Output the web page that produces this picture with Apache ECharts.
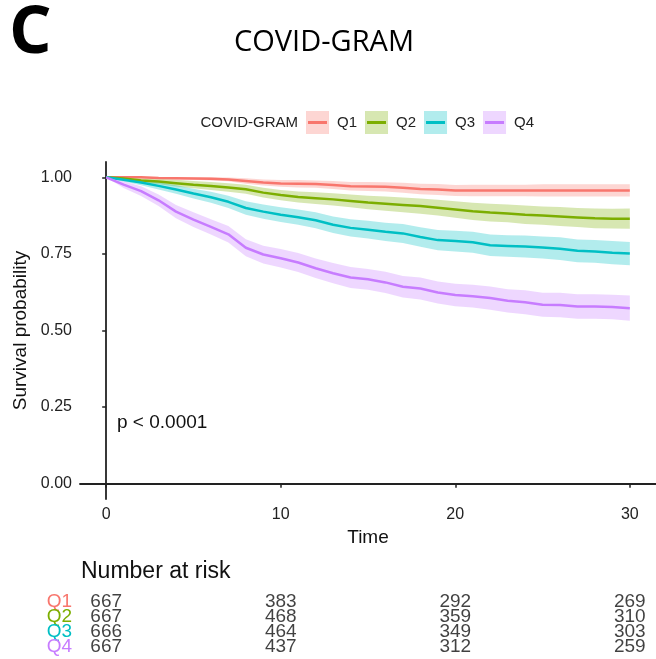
<!DOCTYPE html>
<html>
<head>
<meta charset="utf-8">
<script src="https://cdn.jsdelivr.net/npm/echarts@6/dist/echarts.min.js"></script>
<style>
  html, body { margin: 0; padding: 0; background: #fff; }
  #main { width: 656px; height: 659px; }
</style>
</head>
<body>
<div id="main"></div>
<script>
// 分组与颜色
const groups = ['Q1', 'Q2', 'Q3', 'Q4'];
const lineColors = ['#F8766D', '#7CAE00', '#00BFC4', '#C77CFF'];
const bandColors = ['rgba(248,118,109,0.3)', 'rgba(124,174,0,0.3)', 'rgba(0,191,196,0.3)', 'rgba(199,124,255,0.3)'];

// 时间点
const times = [0, 1, 2, 3, 4, 5, 6, 7, 8, 9, 10, 11, 12, 13, 14, 15, 16, 17, 18, 19, 20, 21, 22, 23, 24, 25, 26, 27, 28, 29, 30];

// 生存概率及置信区间
const q1Surv = [1.000, 1.000, 1.000, 0.998, 0.997, 0.996, 0.995, 0.993, 0.988, 0.983, 0.980, 0.979, 0.978, 0.975, 0.971, 0.970, 0.969, 0.966, 0.962, 0.960, 0.957, 0.957, 0.957, 0.957, 0.957, 0.957, 0.957, 0.957, 0.957, 0.957, 0.957];
const q1Low  = [1.000, 0.998, 0.998, 0.995, 0.993, 0.992, 0.990, 0.987, 0.979, 0.973, 0.969, 0.967, 0.966, 0.962, 0.957, 0.955, 0.954, 0.950, 0.945, 0.942, 0.939, 0.938, 0.938, 0.938, 0.938, 0.937, 0.937, 0.937, 0.937, 0.937, 0.937];
const q1High = [1.000, 1.000, 1.000, 1.000, 1.000, 1.000, 1.000, 0.999, 0.997, 0.993, 0.991, 0.991, 0.990, 0.988, 0.985, 0.985, 0.984, 0.982, 0.979, 0.978, 0.975, 0.976, 0.976, 0.976, 0.976, 0.977, 0.977, 0.977, 0.977, 0.977, 0.977];

const q2Surv = [1.000, 0.996, 0.990, 0.986, 0.981, 0.976, 0.972, 0.967, 0.961, 0.950, 0.942, 0.936, 0.932, 0.928, 0.923, 0.918, 0.914, 0.910, 0.906, 0.901, 0.895, 0.889, 0.885, 0.882, 0.878, 0.875, 0.872, 0.869, 0.866, 0.865, 0.865];
const q2Low  = [1.000, 0.992, 0.983, 0.977, 0.970, 0.964, 0.959, 0.953, 0.946, 0.934, 0.925, 0.918, 0.913, 0.908, 0.902, 0.896, 0.891, 0.886, 0.881, 0.875, 0.868, 0.861, 0.856, 0.853, 0.848, 0.845, 0.841, 0.838, 0.834, 0.833, 0.832];
const q2High = [1.000, 1.000, 0.997, 0.995, 0.992, 0.988, 0.985, 0.981, 0.976, 0.966, 0.959, 0.954, 0.951, 0.948, 0.944, 0.940, 0.937, 0.934, 0.931, 0.927, 0.922, 0.917, 0.914, 0.911, 0.908, 0.905, 0.903, 0.900, 0.898, 0.897, 0.898];

const q3Surv = [1.000, 0.992, 0.983, 0.972, 0.960, 0.947, 0.935, 0.920, 0.900, 0.888, 0.878, 0.870, 0.860, 0.845, 0.835, 0.829, 0.822, 0.817, 0.805, 0.795, 0.792, 0.788, 0.778, 0.776, 0.774, 0.771, 0.767, 0.760, 0.758, 0.754, 0.751];
const q3Low  = [1.000, 0.986, 0.974, 0.960, 0.946, 0.931, 0.917, 0.900, 0.878, 0.865, 0.854, 0.845, 0.834, 0.818, 0.807, 0.800, 0.792, 0.786, 0.773, 0.762, 0.758, 0.754, 0.743, 0.741, 0.738, 0.735, 0.730, 0.723, 0.721, 0.716, 0.713];
const q3High = [1.000, 0.998, 0.992, 0.984, 0.974, 0.963, 0.953, 0.940, 0.922, 0.911, 0.902, 0.895, 0.886, 0.872, 0.863, 0.858, 0.852, 0.848, 0.837, 0.828, 0.826, 0.822, 0.813, 0.811, 0.810, 0.807, 0.804, 0.797, 0.795, 0.792, 0.789];

const q4Surv = [1.000, 0.976, 0.955, 0.925, 0.888, 0.862, 0.838, 0.814, 0.770, 0.748, 0.736, 0.722, 0.703, 0.687, 0.673, 0.667, 0.657, 0.643, 0.637, 0.624, 0.616, 0.612, 0.606, 0.597, 0.592, 0.584, 0.583, 0.578, 0.578, 0.577, 0.573];
const q4Low  = [1.000, 0.965, 0.939, 0.906, 0.866, 0.838, 0.813, 0.787, 0.742, 0.719, 0.706, 0.691, 0.671, 0.654, 0.639, 0.633, 0.622, 0.608, 0.601, 0.588, 0.579, 0.575, 0.568, 0.559, 0.553, 0.545, 0.543, 0.538, 0.538, 0.537, 0.532];
const q4High = [1.000, 0.987, 0.971, 0.944, 0.910, 0.886, 0.863, 0.841, 0.798, 0.777, 0.766, 0.753, 0.735, 0.720, 0.707, 0.701, 0.692, 0.678, 0.673, 0.660, 0.653, 0.649, 0.644, 0.635, 0.631, 0.623, 0.623, 0.618, 0.618, 0.617, 0.614];

// 刻度
const xTicks = [0, 10, 20, 30];
const yTicks = [0, 0.25, 0.5, 0.75, 1];

// 风险人数表
const riskTimes = [0, 10, 20, 30];
const q1Risk = [667, 383, 292, 269];
const q2Risk = [667, 468, 359, 310];
const q3Risk = [666, 464, 349, 303];
const q4Risk = [667, 437, 312, 259];

const survAll = [q1Surv, q2Surv, q3Surv, q4Surv];
const lowAll = [q1Low, q2Low, q3Low, q4Low];
const highAll = [q1High, q2High, q3High, q4High];
const riskAll = [q1Risk, q2Risk, q3Risk, q4Risk];

const FONT = 'Liberation Sans, Arial, sans-serif';

const chart = echarts.init(document.getElementById('main'));

var series = [];
// 生存曲线
groups.forEach(function (g, k) {
  series.push({
    name: g, type: 'line', symbol: 'none', z: 3,
    lineStyle: { color: lineColors[k], width: 2.5 },
    itemStyle: { color: lineColors[k] },
    data: times.map(function (t, i) { return [t, survAll[k][i]]; })
  });
});
// 置信区间带（整条多边形）
groups.forEach(function (g, k) {
  series.push({
    name: g, type: 'custom', silent: true, z: 1,
    encode: { x: 0, y: [1, 2] },
    data: times.map(function (t, i) { return [t, lowAll[k][i], highAll[k][i]]; }),
    renderItem: function (params, api) {
      if (params.dataIndex !== 0) return;
      var pts = [];
      for (var i = 0; i < times.length; i++) pts.push(api.coord([times[i], highAll[k][i]]));
      for (var j = times.length - 1; j >= 0; j--) pts.push(api.coord([times[j], lowAll[k][j]]));
      return { type: 'polygon', shape: { points: pts }, style: { fill: bandColors[k] } };
    }
  });
});
// 风险人数
var riskData = [];
groups.forEach(function (g, k) {
  riskTimes.forEach(function (t, j) {
    riskData.push([t, g, riskAll[k][j]]);
  });
});
series.push({
  type: 'scatter', xAxisIndex: 1, yAxisIndex: 1, symbolSize: 1,
  itemStyle: { color: 'rgba(0,0,0,0)' },
  label: {
    show: true, position: 'inside',
    formatter: function (p) { return p.value[2]; },
    fontSize: 19, color: '#111', fontFamily: FONT
  },
  data: riskData
});

// 图例：底层浅色方块 + 上层彩色短线，两者同位叠放
var legendBase = {
  left: 306, top: 111, padding: 0, itemWidth: 23, itemHeight: 23, itemGap: 8,
  lineStyle: { width: 0 }
};

var option = {
  backgroundColor: '#ffffff',
  animation: false,
  grid: [
    { left: 80, top: 162, width: 577, height: 337 },   // 主图
    { left: 80, top: 594.5, width: 577, height: 60 }   // 风险表
  ],
  xAxis: [{
    type: 'value', gridIndex: 0, min: -1.5, max: 31.5,
    name: 'Time', nameLocation: 'middle', nameGap: 21,
    nameTextStyle: { fontSize: 19, color: '#111', fontFamily: FONT },
    splitLine: { show: false },
    axisLine: { lineStyle: { color: '#222', width: 1.8 } },
    axisTick: { customValues: xTicks, length: 4, lineStyle: { color: '#222', width: 1.5 } },
    axisLabel: { customValues: xTicks, margin: 8, fontSize: 16, color: '#222', fontFamily: FONT }
  }, {
    type: 'value', gridIndex: 1, min: -1.5, max: 31.5, show: false
  }],
  yAxis: [{
    type: 'value', gridIndex: 0, min: -0.05, max: 1.05,
    name: 'Survival probability', nameLocation: 'middle', nameGap: 47,
    nameTextStyle: { fontSize: 19, color: '#111', fontFamily: FONT },
    splitLine: { show: false },
    axisLine: { show: true, lineStyle: { color: '#222', width: 1.8 } },
    axisTick: { show: true, customValues: yTicks, length: 4, lineStyle: { color: '#222', width: 1.5 } },
    axisLabel: {
      customValues: yTicks, margin: 8, fontSize: 16, color: '#222', fontFamily: FONT,
      formatter: function (v) { return v.toFixed(2); }
    }
  }, {
    type: 'category', gridIndex: 1, data: groups, inverse: true,
    axisLine: { show: false }, axisTick: { show: false }, splitLine: { show: false },
    axisLabel: {
      interval: 0, margin: 8, fontSize: 19, fontFamily: FONT,
      color: function (v) { return lineColors[groups.indexOf(v)]; }
    }
  }],
  legend: [
    Object.assign({}, legendBase, {
      z: 4,
      textStyle: { fontSize: 15, color: '#222', fontFamily: FONT, padding: [0, 0, 0, 3] },
      data: groups.map(function (g, k) {
        return { name: g, icon: 'path://M0,0H23V23H0Z', itemStyle: { color: bandColors[k], borderWidth: 0 }, lineStyle: { width: 0 } };
      })
    }),
    Object.assign({}, legendBase, {
      z: 5,
      textStyle: { fontSize: 15, color: 'rgba(0,0,0,0)', fontFamily: FONT, padding: [0, 0, 0, 3] },
      data: groups.map(function (g, k) {
        return {
          name: g,
          icon: 'path://M2,10H21V13H2Z M0,0H0.01V23H0Z M22.99,0H23V23H22.99Z',
          itemStyle: { color: lineColors[k], borderWidth: 0 }, lineStyle: { width: 0 }
        };
      })
    })
  ],
  graphic: [
    { type: 'text', left: 9, top: 0, style: { text: 'C', font: 'bold 67px "Open Sans", sans-serif', fill: '#000' } },
    { type: 'text', x: 324, y: 43, style: { text: 'COVID-GRAM', font: '29px "Open Sans", sans-serif', fill: '#000', align: 'center', verticalAlign: 'middle' } },
    { type: 'text', x: 298, y: 123, style: { text: 'COVID-GRAM', font: '15px "Liberation Sans", Arial, sans-serif', fill: '#222', align: 'right', verticalAlign: 'middle' } },
    { type: 'text', x: 117, y: 423, style: { text: 'p < 0.0001', font: '19px "Liberation Sans", Arial, sans-serif', fill: '#111', align: 'left', verticalAlign: 'middle' } },
    { type: 'text', x: 81, y: 572, style: { text: 'Number at risk', font: '23px "Liberation Sans", Arial, sans-serif', fill: '#111', align: 'left', verticalAlign: 'middle' } }
  ],
  series: series
};

chart.setOption(option);
</script>
</body>
</html>
